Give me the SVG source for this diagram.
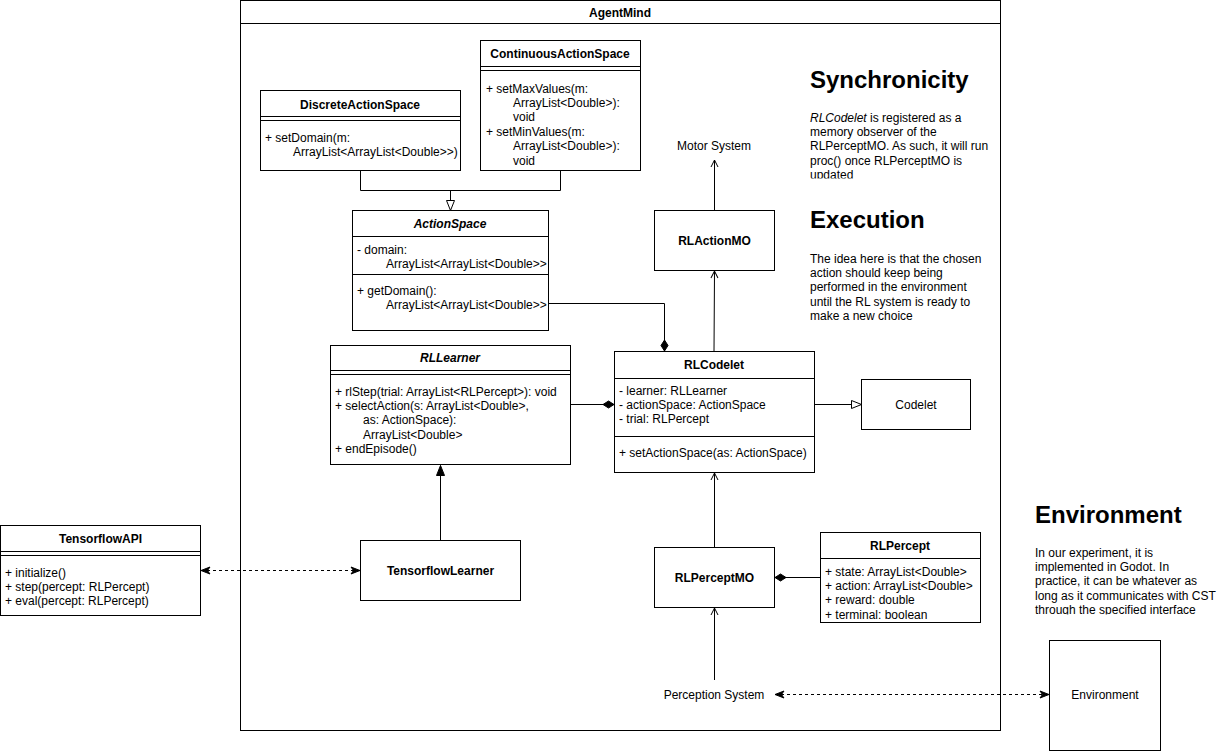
<svg xmlns="http://www.w3.org/2000/svg" width="1221" height="751" viewBox="0 0 1221 751">
<style>
text{font-family:"Liberation Sans",Arial,Helvetica,sans-serif;font-size:12px;fill:#000}
.t{font-weight:bold;text-anchor:middle}
.ti{font-weight:bold;font-style:italic;text-anchor:middle}
.c{text-anchor:middle}
.h{font-size:24px;font-weight:bold}
.box{fill:#fff;stroke:#000;stroke-width:1}
.ln{stroke:#000;stroke-width:1;fill:none}
.dash{stroke:#000;stroke-width:1;fill:none;stroke-dasharray:3 3}
</style>
<defs>
<marker id="hollowTri" markerUnits="userSpaceOnUse" markerWidth="12" markerHeight="10" refX="10" refY="4" orient="auto" overflow="visible"><path d="M0,0 L10,4 L0,8 Z" fill="#fff" stroke="#000" stroke-width="1"/></marker>
<marker id="blockTri" markerUnits="userSpaceOnUse" markerWidth="12" markerHeight="10" refX="10" refY="4" orient="auto" overflow="visible"><path d="M0,0 L10,4 L0,8 Z" fill="#000" stroke="#000" stroke-width="1"/></marker>
<marker id="diamond" markerUnits="userSpaceOnUse" markerWidth="14" markerHeight="10" refX="11" refY="3.5" orient="auto" overflow="visible"><path d="M0,3.5 L5.5,0 L11,3.5 L5.5,7 Z" fill="#000" stroke="#000" stroke-width="1"/></marker>
<marker id="open" markerUnits="userSpaceOnUse" markerWidth="10" markerHeight="10" refX="7" refY="3.5" orient="auto" overflow="visible"><path d="M0,0 L7,3.5 L0,7" fill="none" stroke="#000" stroke-width="1"/></marker>
<marker id="classic" markerUnits="userSpaceOnUse" markerWidth="12" markerHeight="10" refX="9" refY="3.5" orient="auto-start-reverse" overflow="visible"><path d="M0,0 L9,3.5 L0,7 L2.5,3.5 Z" fill="#000" stroke="#000" stroke-width="1" stroke-dasharray="none"/></marker>
<clipPath id="clipSync"><rect x="805" y="55" width="200" height="123.5"/></clipPath>
<clipPath id="clipEnv"><rect x="1030" y="495" width="191" height="119.5"/></clipPath>
<clipPath id="clipDisc"><rect x="260" y="90" width="199.5" height="80"/></clipPath>
<clipPath id="clipAS"><rect x="352" y="210" width="195.5" height="120"/></clipPath>
</defs>

<g id="AgentMind">
<rect class="box" x="240.5" y="0.5" width="760" height="730"/>
<line class="ln" x1="240.5" y1="23.5" x2="1000.5" y2="23.5"/>
<text class="t" x="620" y="17">AgentMind</text>
</g>

<g id="ContinuousActionSpace">
<rect class="box" x="480.5" y="40.5" width="160" height="130"/>
<line class="ln" x1="480.5" y1="66.5" x2="640.5" y2="66.5"/>
<line class="ln" x1="480.5" y1="70.5" x2="640.5" y2="70.5"/>
<text class="t" x="560" y="57.5">ContinuousActionSpace</text>
<text x="486" y="92.5">+ setMaxValues(m:</text>
<text x="513" y="106.9">ArrayList&lt;Double&gt;):</text>
<text x="513" y="121.3">void</text>
<text x="486" y="135.7">+ setMinValues(m:</text>
<text x="513" y="150.1">ArrayList&lt;Double&gt;):</text>
<text x="513" y="164.5">void</text>
</g>

<g id="DiscreteActionSpace">
<rect class="box" x="260.5" y="90.5" width="200" height="80"/>
<line class="ln" x1="260.5" y1="116.5" x2="460.5" y2="116.5"/>
<line class="ln" x1="260.5" y1="120.5" x2="460.5" y2="120.5"/>
<text class="t" x="360" y="108.5">DiscreteActionSpace</text>
<g clip-path="url(#clipDisc)">
<text x="265" y="141.5">+ setDomain(m:</text>
<text x="293" y="155.9">ArrayList&lt;ArrayList&lt;Double&gt;&gt;)</text>
</g>
</g>

<g id="ActionSpace">
<rect class="box" x="352.5" y="210.5" width="196" height="120"/>
<line class="ln" x1="352.5" y1="236.5" x2="548.5" y2="236.5"/>
<line class="ln" x1="352.5" y1="274.5" x2="548.5" y2="274.5"/>
<text class="ti" x="450" y="227.5">ActionSpace</text>
<g clip-path="url(#clipAS)">
<text x="357" y="253.5">- domain:</text>
<text x="386" y="267.9">ArrayList&lt;ArrayList&lt;Double&gt;&gt;</text>
<text x="357" y="294.5">+ getDomain():</text>
<text x="386" y="308.9">ArrayList&lt;ArrayList&lt;Double&gt;&gt;</text>
</g>
</g>

<g id="RLLearner">
<rect class="box" x="330.5" y="345.5" width="240" height="119"/>
<line class="ln" x1="330.5" y1="370.5" x2="570.5" y2="370.5"/>
<line class="ln" x1="330.5" y1="374.5" x2="570.5" y2="374.5"/>
<text class="ti" x="450" y="361.5">RLLearner</text>
<text x="335" y="395.5">+ rlStep(trial: ArrayList&lt;RLPercept&gt;): void</text>
<text x="335" y="409.9">+ selectAction(s: ArrayList&lt;Double&gt;,</text>
<text x="363" y="424.3">as: ActionSpace):</text>
<text x="363" y="438.7">ArrayList&lt;Double&gt;</text>
<text x="335" y="453.1">+ endEpisode()</text>
</g>

<g id="RLCodelet">
<rect class="box" x="614.5" y="351.5" width="200" height="121"/>
<line class="ln" x1="614.5" y1="378.5" x2="814.5" y2="378.5"/>
<line class="ln" x1="614.5" y1="436.5" x2="814.5" y2="436.5"/>
<text class="t" x="714" y="368.5">RLCodelet</text>
<text x="619" y="394.5">- learner: RLLearner</text>
<text x="619" y="408.9">- actionSpace: ActionSpace</text>
<text x="619" y="423.3">- trial: RLPercept</text>
<text x="619" y="456.5">+ setActionSpace(as: ActionSpace)</text>
</g>

<g id="Codelet">
<rect class="box" x="861.5" y="379.5" width="109" height="50"/>
<text class="c" x="916" y="408.5">Codelet</text>
</g>

<g id="RLActionMO">
<rect class="box" x="654.5" y="210.5" width="120" height="60"/>
<text class="t" x="714.5" y="244.5">RLActionMO</text>
</g>

<g id="MotorSystem">
<text class="c" x="714" y="149.5">Motor System</text>
</g>

<g id="RLPerceptMO">
<rect class="box" x="654.5" y="547.5" width="120" height="60"/>
<text class="t" x="714.5" y="581.5">RLPerceptMO</text>
</g>

<g id="RLPercept">
<rect class="box" x="820.5" y="532.5" width="160" height="90"/>
<line class="ln" x1="820.5" y1="558.5" x2="980.5" y2="558.5"/>
<text class="t" x="900" y="549.5">RLPercept</text>
<text x="825" y="575.5">+ state: ArrayList&lt;Double&gt;</text>
<text x="825" y="589.9">+ action: ArrayList&lt;Double&gt;</text>
<text x="825" y="604.3">+ reward: double</text>
<text x="825" y="618.7">+ terminal: boolean</text>
</g>

<g id="PerceptionSystem">
<text class="c" x="714" y="698.5">Perception System</text>
</g>

<g id="TensorflowLearner">
<rect class="box" x="360.5" y="540.5" width="160" height="60"/>
<text class="t" x="440.5" y="574.5">TensorflowLearner</text>
</g>

<g id="TensorflowAPI">
<rect class="box" x="0.5" y="525.5" width="200" height="90"/>
<line class="ln" x1="0.5" y1="551.5" x2="200.5" y2="551.5"/>
<line class="ln" x1="0.5" y1="555.5" x2="200.5" y2="555.5"/>
<text class="t" x="100.5" y="542.5">TensorflowAPI</text>
<text x="5" y="576.5">+ initialize()</text>
<text x="5" y="590.9">+ step(percept: RLPercept)</text>
<text x="5" y="605.3">+ eval(percept: RLPercept)</text>
</g>

<g id="Environment">
<rect class="box" x="1049.5" y="640.5" width="111" height="110"/>
<text class="c" x="1105" y="698.5">Environment</text>
</g>

<g id="notes">
<g clip-path="url(#clipSync)">
<text class="h" x="810" y="88">Synchronicity</text>
<text x="810" y="121.5"><tspan font-style="italic">RLCodelet</tspan> is registered as a</text>
<text x="810" y="135.9">memory observer of the</text>
<text x="810" y="150.3">RLPerceptMO. As such, it will run</text>
<text x="810" y="164.7">proc() once RLPerceptMO is</text>
<text x="810" y="179.1">updated</text>
</g>
<text class="h" x="810" y="228">Execution</text>
<text x="810" y="262.5">The idea here is that the chosen</text>
<text x="810" y="276.9">action should keep being</text>
<text x="810" y="291.3">performed in the environment</text>
<text x="810" y="305.7">until the RL system is ready to</text>
<text x="810" y="320.1">make a new choice</text>
<g clip-path="url(#clipEnv)">
<text class="h" x="1035" y="523">Environment</text>
<text x="1035" y="556.5">In our experiment, it is</text>
<text x="1035" y="570.9">implemented in Godot. In</text>
<text x="1035" y="585.3">practice, it can be whatever as</text>
<text x="1035" y="599.7">long as it communicates with CST</text>
<text x="1035" y="614.1">through the specified interface</text>
</g>
</g>

<g id="connectors">
<polyline class="ln" points="360.5,170.5 360.5,190.5 560.5,190.5 560.5,170.5"/>
<line class="ln" x1="450.5" y1="190.5" x2="450.5" y2="210.5" marker-end="url(#hollowTri)"/>
<polyline class="ln" points="548.5,303.5 664.5,303.5 664.5,351" marker-end="url(#diamond)"/>
<line class="ln" x1="570.5" y1="404.5" x2="614" y2="404.5" marker-end="url(#diamond)"/>
<line class="ln" x1="814.5" y1="404.5" x2="861.5" y2="404.5" marker-end="url(#hollowTri)"/>
<line class="ln" x1="714" y1="351.5" x2="714.5" y2="271" marker-end="url(#open)"/>
<line class="ln" x1="714.5" y1="210.5" x2="714.5" y2="160" marker-end="url(#open)"/>
<line class="ln" x1="714.5" y1="547.5" x2="714.5" y2="473" marker-end="url(#open)"/>
<line class="ln" x1="714.5" y1="680" x2="714.5" y2="608" marker-end="url(#open)"/>
<line class="ln" x1="820.5" y1="577.5" x2="775" y2="577.5" marker-end="url(#diamond)"/>
<line class="ln" x1="440.5" y1="540.5" x2="440.5" y2="465.5" marker-end="url(#blockTri)"/>
<line class="dash" x1="201" y1="570.5" x2="360" y2="570.5" marker-start="url(#classic)" marker-end="url(#classic)"/>
<line class="dash" x1="775" y1="694.5" x2="1049" y2="694.5" marker-start="url(#classic)" marker-end="url(#classic)"/>
</g>
</svg>
